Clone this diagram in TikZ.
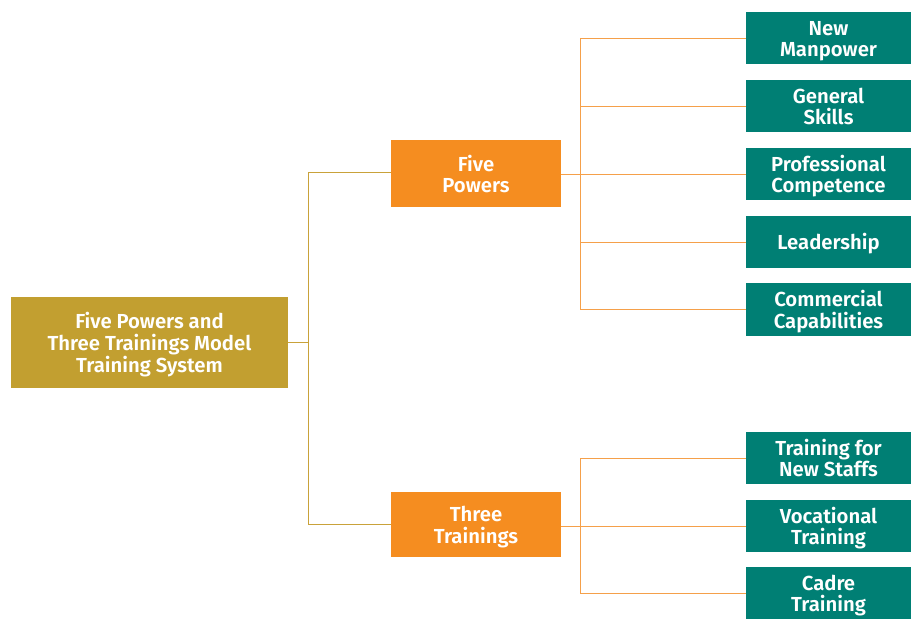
\documentclass[tikz,border=0pt]{standalone}
\usepackage{fontspec}
\setmainfont{Fira Sans}[BoldFont={Fira Sans SemiBold}]
\definecolor{rootc}{HTML}{C29F30}
\definecolor{midc}{HTML}{F58D20}
\definecolor{leafc}{HTML}{007F74}
\definecolor{lineg}{HTML}{C9A23A}
\definecolor{lineo}{HTML}{F5A04A}
\newcommand\lineT[1]{\smash{#1}}
\newcommand\capS{\rule{0pt}{16pt}}
\begin{document}
\begin{tikzpicture}[x=1pt,y=-1pt,
  box/.style={inner sep=0pt, align=center, text=white, font=\bfseries\fontsize{20.3}{21.6}\selectfont},
  rootbox/.style={box, fill=rootc, minimum width=277pt, minimum height=91pt},
  midbox/.style={box, fill=midc, minimum width=170pt, minimum height=67pt},
  leafbox/.style={box, fill=leafc, minimum width=165pt, minimum height=52pt},
  conng/.style={draw=lineg, line width=0.9pt},
  conno/.style={draw=lineo, line width=0.9pt}]
\useasboundingbox (0,0) rectangle (911,620);
\node[rootbox] (root) at (149.5,342.5) {\capS\lineT{Five Powers and}\\\lineT{Three Trainings Model}\\\lineT{Training System}};
\node[midbox] (fp) at (476,174) {\capS\lineT{Five}\\\lineT{Powers}};
\node[midbox, minimum height=65pt] (tt) at (476,524.5) {\capS\lineT{Three}\\\lineT{Trainings}};
\node[leafbox] (l1) at (828.5,38) {\capS\lineT{New}\\\lineT{Manpower}};
\node[leafbox] (l2) at (828.5,106) {\capS\lineT{General}\\\lineT{Skills}};
\node[leafbox] (l3) at (828.5,174) {\capS\lineT{Professional}\\\lineT{Competence}};
\node[leafbox] (l4) at (828.5,242) {\capS\lineT{Leadership}};
\node[leafbox, minimum height=53pt] (l5) at (828.5,309.5) {\capS\lineT{Commercial}\\\lineT{Capabilities}};
\node[leafbox] (l6) at (828.5,458) {\capS\lineT{Training for}\\\lineT{New Staffs}};
\node[leafbox] (l7) at (828.5,526) {\capS\lineT{Vocational}\\\lineT{Training}};
\node[leafbox] (l8) at (828.5,593) {\capS\lineT{Cadre}\\\lineT{Training}};
\coordinate (j0) at (308,342);
\coordinate (j1) at (580,174);
\coordinate (j2) at (580,526);
% root connectors
\draw[conng] (root.east |- j0) -- (j0);
\draw[conng] (j0) |- (fp.west |- 0,172);
\draw[conng] (j0) |- (tt.west |- 0,524);
% five powers
\draw[conno] (fp.east |- j1) -- (l3.west);
\draw[conno] (j1 |- l1.west) -- (l1.west);
\draw[conno] (j1 |- l2.west) -- (l2.west);
\draw[conno] (j1 |- l4.west) -- (l4.west);
\draw[conno] (j1 |- l5.west) -- (l5.west);
\draw[conno] (j1 |- l1.west) -- (j1 |- l5.west);
% three trainings
\draw[conno] (tt.east |- l7.west) -- (l7.west);
\draw[conno] (j2 |- l6.west) -- (l6.west);
\draw[conno] (j2 |- l8.west) -- (l8.west);
\draw[conno] (j2 |- l6.west) -- (j2 |- l8.west);
\end{tikzpicture}
\end{document}
